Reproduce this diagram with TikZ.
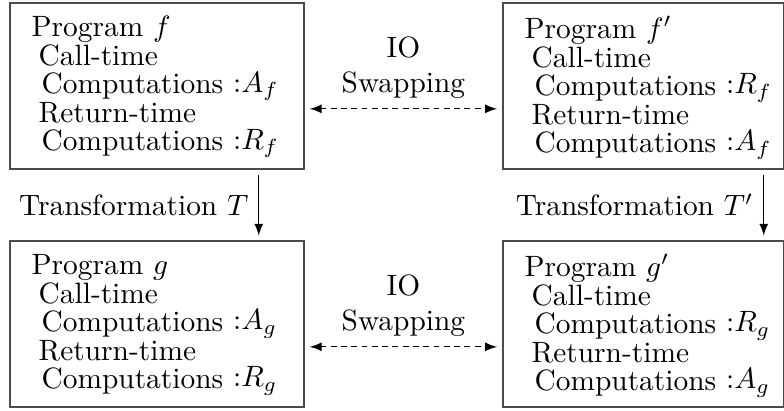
\documentclass[tikz,border=0pt]{standalone}
\usetikzlibrary{positioning}
\newcommand{\twostack}[2]{\vbox{\baselineskip=9.6pt\lineskiplimit=-10pt\hbox{#1}\hbox{\hspace{1pt}#2}}}

\begin{document}
\begin{tikzpicture}[
  x=0.34pt, y=-0.34pt,
  prog/.style={draw=black!70,line width=0.6pt,anchor=north west,minimum height=56.44pt,inner sep=0pt},
  ptitle/.style={inner sep=0pt},
  comp/.style={inner sep=0pt},
  lab/.style={anchor=base west,inner sep=0pt,xshift=3pt,yshift=0.5pt},
  swap/.style={<->,>=latex,dash pattern=on 2pt off 1.5pt,shorten <=1.7pt,shorten >=1.7pt},
  trans/.style={->,>=latex,shorten <=1.7pt,shorten >=1.5pt}
]
  \useasboundingbox (0,0) rectangle (784,410);

  \node[prog,minimum width=99.96pt] (f) at (9,2) {};
  \node[prog,minimum width=95.54pt] (fs) at (502,2) {};
  \node[prog,minimum width=99.96pt] (g) at (9,240) {};
  \node[prog,minimum width=95.54pt] (gs) at (502,240) {};

  % program f
  \node[ptitle,below right=4.6pt and 7.5pt of f.north west] (ft) {Program $f$};
  \node[comp,below right=0.3pt and 2.4pt of ft.south west] (fc) {\twostack{Call-time}{Computations}};
  \node[lab] (fca) at (fc.base east) {:$A_f$};
  \node[comp,below right=0.6pt and 0pt of fc.south west] (fr) {\twostack{Return-time}{Computations}};
  \node[lab] (fra) at (fr.base east) {:$R_f$};

  % program f'
  \node[ptitle,below right=4.6pt and 7.5pt of fs.north west] (fst) {Program $f'$};
  \node[comp,below right=0.3pt and 2.4pt of fst.south west] (fsc) {\twostack{Call-time}{Computations}};
  \node[lab] (fsca) at (fsc.base east) {:$R_f$};
  \node[comp,below right=0.6pt and 0pt of fsc.south west] (fsr) {\twostack{Return-time}{Computations}};
  \node[lab] (fsra) at (fsr.base east) {:$A_f$};

  % program g
  \node[ptitle,below right=4.6pt and 7.5pt of g.north west] (gt) {Program $g$};
  \node[comp,below right=0.3pt and 2.4pt of gt.south west] (gc) {\twostack{Call-time}{Computations}};
  \node[lab] (gca) at (gc.base east) {:$A_g$};
  \node[comp,below right=0.6pt and 0pt of gc.south west] (gr) {\twostack{Return-time}{Computations}};
  \node[lab] (gra) at (gr.base east) {:$R_g$};

  % program g'
  \node[ptitle,below right=4.6pt and 7.5pt of gs.north west] (gst) {Program $g'$};
  \node[comp,below right=0.3pt and 2.4pt of gst.south west] (gsc) {\twostack{Call-time}{Computations}};
  \node[lab] (gsca) at (gsc.base east) {:$R_g$};
  \node[comp,below right=0.6pt and 0pt of gsc.south west] (gsr) {\twostack{Return-time}{Computations}};
  \node[lab] (gsra) at (gsr.base east) {:$A_g$};

  % io swapping
  \draw[swap] ([yshift=-7.8pt]f.east) -- node[above,align=center] (swf) {IO\\Swapping} ([yshift=-7.8pt]fs.west);
  \draw[swap] ([yshift=-7.8pt]g.east) -- node[above,align=center] (swg) {IO\\Swapping} ([yshift=-7.8pt]gs.west);

  % transformations
  \coordinate[left=15.64pt of f.south east] (fa);
  \coordinate[left=7.14pt of fs.south east] (fsa);
  \draw[trans] (fa) -- node[left] (tf) {Transformation $T$} (g.north -| fa);
  \draw[trans] (fsa) -- node[left] (tfs) {Transformation $T'$} (gs.north -| fsa);
\end{tikzpicture}
\end{document}
